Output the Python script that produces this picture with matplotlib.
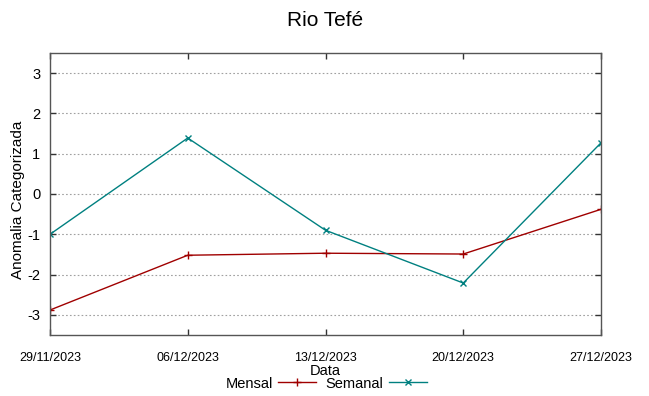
import matplotlib
matplotlib.use("Agg")
import matplotlib.pyplot as plt
import pandas as pd

dates = ["29/11/2023", "06/12/2023", "13/12/2023", "20/12/2023", "27/12/2023"]
mensal = [-2.88, -1.52, -1.47, -1.49, -0.38]
semanal = [-1.0, 1.39, -0.9, -2.21, 1.27]
yticks = [-3, -2, -1, 0, 1, 2, 3]

plt.rcParams['font.family'] = ['Liberation Sans', 'DejaVu Sans']

x = pd.to_datetime(dates, format="%d/%m/%Y")

W, H = 649, 396
fig = plt.figure(figsize=(W/100, H/100), dpi=100)
ax = fig.add_axes([50/W, 1-335/H, 551/W, 282/H])

ax.plot(x, mensal, color='#a00000', lw=1, marker='+', ms=6, mew=1, label='Mensal')
ax.plot(x, semanal, color='#008080', lw=1, marker='x', ms=5, mew=1, label='Semanal')

ax.set_xlim(x[0], x[-1])
ax.set_ylim(-3.5, 3.5)
ax.set_yticks(yticks)
ax.set_yticklabels([str(v) for v in yticks], fontsize=10.5)
ax.set_xticks(x)
ax.set_xticklabels(dates, fontsize=9)
ax.tick_params(axis='both', direction='in', top=True, right=True, length=4, width=1,
               colors='#333333', labelcolor='black')
ax.tick_params(axis='x', pad=12)
ax.tick_params(axis='y', pad=7)
ax.grid(axis='y', color='#a0a0a0', ls=(0, (1.5, 2)), lw=0.8)
for s in ax.spines.values():
    s.set_color('#555555')
    s.set_linewidth(1)

fig.text(325/W, 1-20/H, 'Rio Tefé', fontsize=15, ha='center', va='center')
fig.text(18/W, 1-200/H, 'Anomalia Categorizada', fontsize=11, ha='center', va='center',
         rotation=90)
fig.text(325/W, 1-371/H, 'Data', fontsize=10.5, ha='center', va='center')

fig.legend(loc='center', bbox_to_anchor=(326/W, 1-383.5/H), ncol=2, frameon=False,
           markerfirst=False, handlelength=2.6, columnspacing=0.6,
           handletextpad=0.4, borderpad=0.2, prop={'size': 10.5})

fig.savefig('out.png', dpi=100)
